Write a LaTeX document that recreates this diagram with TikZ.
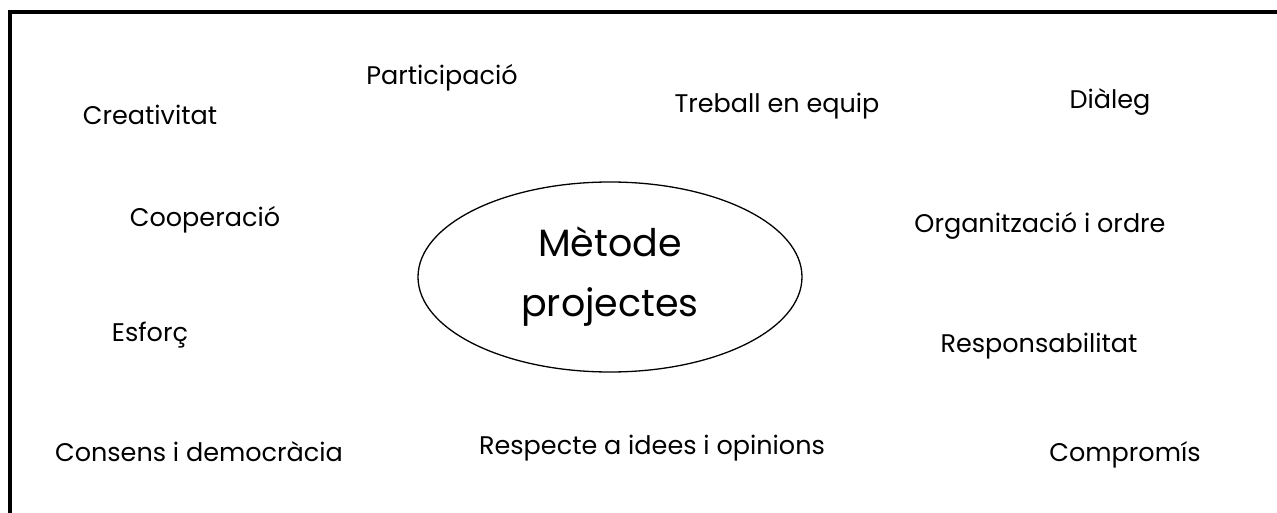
\documentclass[tikz,border=0pt]{standalone}
\usepackage{fontspec}
\setmainfont{Poppins}
\usetikzlibrary{shapes.geometric}
\begin{document}
\begin{tikzpicture}[x=1pt,y=-1pt,
  lbl/.style={font=\fontsize{25.5}{28}\selectfont, inner sep=0pt, anchor=center},
  centre/.style={draw, line width=1.3pt, ellipse, minimum width=384pt, minimum height=190pt, inner sep=0pt, font=\fontsize{38}{60}\selectfont, align=center}]
\useasboundingbox (0,0) rectangle (1277,513);
\draw[line width=4pt, line cap=butt] (10,513) -- (10,12.5) -- (1277,12.5);
\node[centre] (m) at (610,277) {Mètode\\projectes};
\node[lbl] (a) at (442,78) {Participació};
\node[lbl] (b) at (150,115) {Creativitat};
\node[lbl] (c) at (777,106) {Treball en equip};
\node[lbl] (d) at (1110,102) {Diàleg};
\node[lbl] (e) at (205,220) {Cooperació};
\node[lbl] (f) at (1040,226) {Organització i ordre};
\node[lbl] (g) at (150,335) {Esforç};
\node[lbl] (h) at (1039,346) {Responsabilitat};
\node[lbl] (i) at (199,452) {Consens i democràcia};
\node[lbl] (j) at (652,448) {Respecte a idees i opinions};
\node[lbl] (k) at (1125,455) {Compromís};
\end{tikzpicture}
\end{document}
